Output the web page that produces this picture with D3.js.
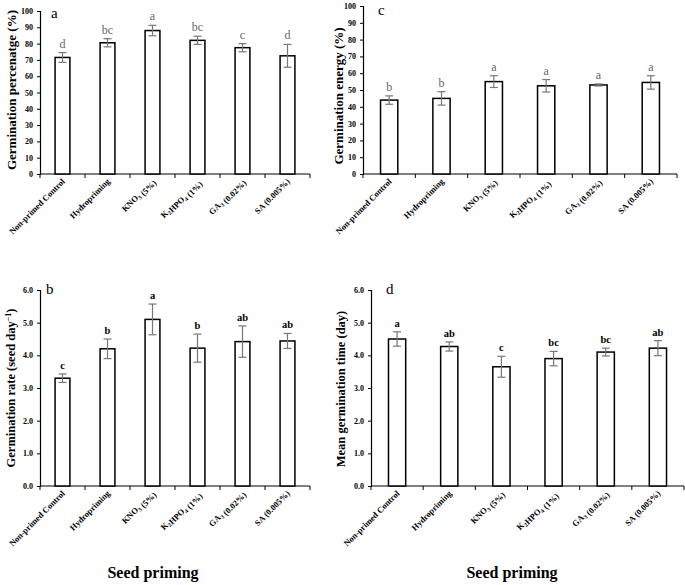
<!DOCTYPE html>
<html>
<head>
<meta charset="utf-8">
<script src="https://cdn.jsdelivr.net/npm/d3@7"></script>
<style>
  body { margin: 0; background: #fff; }
  svg { display: block; }
</style>
</head>
<body>
<svg class="chart" width="685" height="585"></svg>
<script>
// treatments, with subscript parts marked as [text, isSub]
const categories = [
  [['Non-primed Control', false]],
  [['Hydropriming', false]],
  [['KNO', false], ['3', true], [' (5%)', false]],
  [['K', false], ['2', true], ['HPO', false], ['4', true], [' (1%)', false]],
  [['GA', false], ['3', true], [' (0.02%)', false]],
  [['SA (0.005%)', false]],
];

const gpMeans = [71.5, 80.5, 88, 82, 77.5, 72.5];
const gpErrors = [3, 2.5, 3.2, 2.5, 2.5, 7];
const gpLetters = ['d', 'bc', 'a', 'bc', 'c', 'd'];

const geMeans = [44, 45, 55, 52.5, 53, 54.5];
const geErrors = [2.5, 4, 3.5, 3.7, 0.6, 4];
const geLetters = ['b', 'b', 'a', 'a', 'a', 'a'];

const grMeans = [3.3, 4.2, 5.1, 4.22, 4.42, 4.44];
const grErrors = [0.13, 0.3, 0.47, 0.43, 0.48, 0.23];
const grLetters = ['c', 'b', 'a', 'b', 'ab', 'ab'];

const mgtMeans = [4.5, 4.27, 3.65, 3.9, 4.1, 4.22];
const mgtErrors = [0.22, 0.14, 0.32, 0.22, 0.12, 0.23];
const mgtLetters = ['a', 'ab', 'c', 'bc', 'bc', 'ab'];

const pctTicks = d3.range(0, 101, 10);
const rateTicks = d3.range(0, 6.01, 1);

const SERIF = '"Liberation Serif", "Times New Roman", serif';
const ERR_COLOR = '#777';

const svg = d3.select('.chart');

const drawPanel = ({
  x0, x1, yTop, yBottom, max, ticks, fmt, means, errors, letters,
  tag, tagX, tagY, ylabel, ylabelX, ylabelY, ylabelSize, letterStyle,
}) => {
  const ids = categories.map((c, i) => i);
  const x = d3.scaleBand().domain(ids).range([x0, x1]);
  const y = d3.scaleLinear().domain([0, max]).range([yBottom, yTop]);
  const g = svg.append('g');

  // y axis
  const yAxis = g.append('g')
    .attr('transform', `translate(${x0},0)`)
    .call(d3.axisLeft(y).tickValues(ticks).tickFormat(fmt).tickSize(3).tickPadding(4));
  yAxis.select('.domain').attr('stroke', '#000').attr('stroke-width', 1.2);
  yAxis.selectAll('.tick line').attr('stroke', '#000');
  yAxis.selectAll('.tick text')
    .style('font-family', SERIF)
    .style('font-weight', 'bold')
    .style('font-size', '8px')
    .attr('fill', '#000');

  // x axis with boundary ticks
  g.append('line')
    .attr('x1', x0).attr('x2', x1)
    .attr('y1', yBottom).attr('y2', yBottom)
    .attr('stroke', '#000').attr('stroke-width', 1.2);
  g.selectAll('.xtick')
    .data(d3.range(categories.length + 1))
    .enter()
    .append('line')
    .attr('x1', (d) => x0 + d * x.bandwidth())
    .attr('x2', (d) => x0 + d * x.bandwidth())
    .attr('y1', yBottom)
    .attr('y2', yBottom + 4)
    .attr('stroke', '#000');

  const bw = x.bandwidth() * 0.33;
  const cx = (i) => x(i) + x.bandwidth() / 2;

  // bars
  g.selectAll('.bar')
    .data(means)
    .enter()
    .append('rect')
    .attr('x', (d, i) => cx(i) - bw / 2)
    .attr('y', (d) => y(d))
    .attr('width', bw)
    .attr('height', (d) => yBottom - y(d))
    .attr('fill', '#fff')
    .attr('stroke', '#000')
    .attr('stroke-width', 1.5);

  // error bars
  const eb = g.selectAll('.err')
    .data(means)
    .enter()
    .append('g')
    .attr('stroke', ERR_COLOR)
    .attr('stroke-width', 1.2);
  eb.append('line')
    .attr('x1', (d, i) => cx(i)).attr('x2', (d, i) => cx(i))
    .attr('y1', (d, i) => y(d - errors[i]))
    .attr('y2', (d, i) => y(d + errors[i]));
  [1, -1].forEach((s) => {
    eb.append('line')
      .attr('x1', (d, i) => cx(i) - 4).attr('x2', (d, i) => cx(i) + 4)
      .attr('y1', (d, i) => y(d + s * errors[i]))
      .attr('y2', (d, i) => y(d + s * errors[i]));
  });

  // significance letters
  g.selectAll('.letter')
    .data(letters)
    .enter()
    .append('text')
    .attr('x', (d, i) => cx(i))
    .attr('y', (d, i) => y(means[i] + errors[i]) - 5)
    .attr('text-anchor', 'middle')
    .style('font-family', SERIF)
    .style('font-size', letterStyle.size)
    .style('font-weight', letterStyle.weight)
    .attr('fill', letterStyle.color)
    .text((d) => d);

  // category labels
  const lbl = g.selectAll('.xlabel')
    .data(categories)
    .enter()
    .append('text')
    .attr('transform', (d, i) => `translate(${cx(i) + 3},${yBottom + 8})rotate(-45)`)
    .attr('text-anchor', 'end')
    .style('font-family', SERIF)
    .style('font-weight', 'bold')
    .style('font-size', '8.5px')
    .attr('fill', '#000');
  lbl.each(function addParts(parts) {
    const t = d3.select(this);
    parts.forEach(([s, sub]) => {
      t.append('tspan')
        .attr('dy', sub ? 2 : 0)
        .style('font-size', sub ? '6px' : null)
        .text(s);
      if (sub) t.append('tspan').attr('dy', -2).text('');
    });
  });

  // panel tag
  g.append('text')
    .attr('x', tagX).attr('y', tagY)
    .style('font-family', SERIF)
    .style('font-size', '15px')
    .attr('fill', '#000')
    .text(tag);

  // y label
  g.append('text')
    .attr('transform', `translate(${ylabelX},${ylabelY})rotate(-90)`)
    .attr('text-anchor', 'middle')
    .attr('dy', '0.35em')
    .style('font-family', SERIF)
    .style('font-weight', 'bold')
    .style('font-size', ylabelSize)
    .attr('fill', '#000')
    .html(ylabel);
};

const pctFmt = d3.format('d');
const rateFmt = d3.format('.1f');
const grayLetters = { size: '12px', weight: 'normal', color: '#666' };
const blackLetters = { size: '10.5px', weight: 'bold', color: '#000' };

drawPanel({
  x0: 40, x1: 310, yTop: 11, yBottom: 174, max: 100, ticks: pctTicks, fmt: pctFmt,
  means: gpMeans, errors: gpErrors, letters: gpLetters,
  tag: 'a', tagX: 51, tagY: 18,
  ylabel: 'Germination percenatge (%)', ylabelX: 11, ylabelY: 90, ylabelSize: '13px',
  letterStyle: grayLetters,
});

drawPanel({
  x0: 363, x1: 677, yTop: 6, yBottom: 174, max: 100, ticks: pctTicks, fmt: pctFmt,
  means: geMeans, errors: geErrors, letters: geLetters,
  tag: 'c', tagX: 378, tagY: 15,
  ylabel: 'Germination energy (%)', ylabelX: 338, ylabelY: 96, ylabelSize: '13px',
  letterStyle: grayLetters,
});

drawPanel({
  x0: 40, x1: 310, yTop: 290, yBottom: 486, max: 6, ticks: rateTicks, fmt: rateFmt,
  means: grMeans, errors: grErrors, letters: grLetters,
  tag: 'b', tagX: 46, tagY: 294,
  ylabel: 'Germination rate (seed day<tspan dy="-4" font-size="8px">\u22121</tspan><tspan dy="4">)</tspan>',
  ylabelX: 11, ylabelY: 388, ylabelSize: '12.5px',
  letterStyle: blackLetters,
});

drawPanel({
  x0: 371, x1: 684, yTop: 290, yBottom: 486, max: 6, ticks: rateTicks, fmt: rateFmt,
  means: mgtMeans, errors: mgtErrors, letters: mgtLetters,
  tag: 'd', tagX: 386, tagY: 294,
  ylabel: 'Mean germination time (day)', ylabelX: 341, ylabelY: 389, ylabelSize: '12.5px',
  letterStyle: blackLetters,
});

// shared x titles
[153, 512].forEach((cxTitle) => {
  svg.append('text')
    .attr('x', cxTitle).attr('y', 578)
    .attr('text-anchor', 'middle')
    .style('font-family', SERIF)
    .style('font-weight', 'bold')
    .style('font-size', '16px')
    .attr('fill', '#000')
    .text('Seed priming');
});
</script>
</body>
</html>
